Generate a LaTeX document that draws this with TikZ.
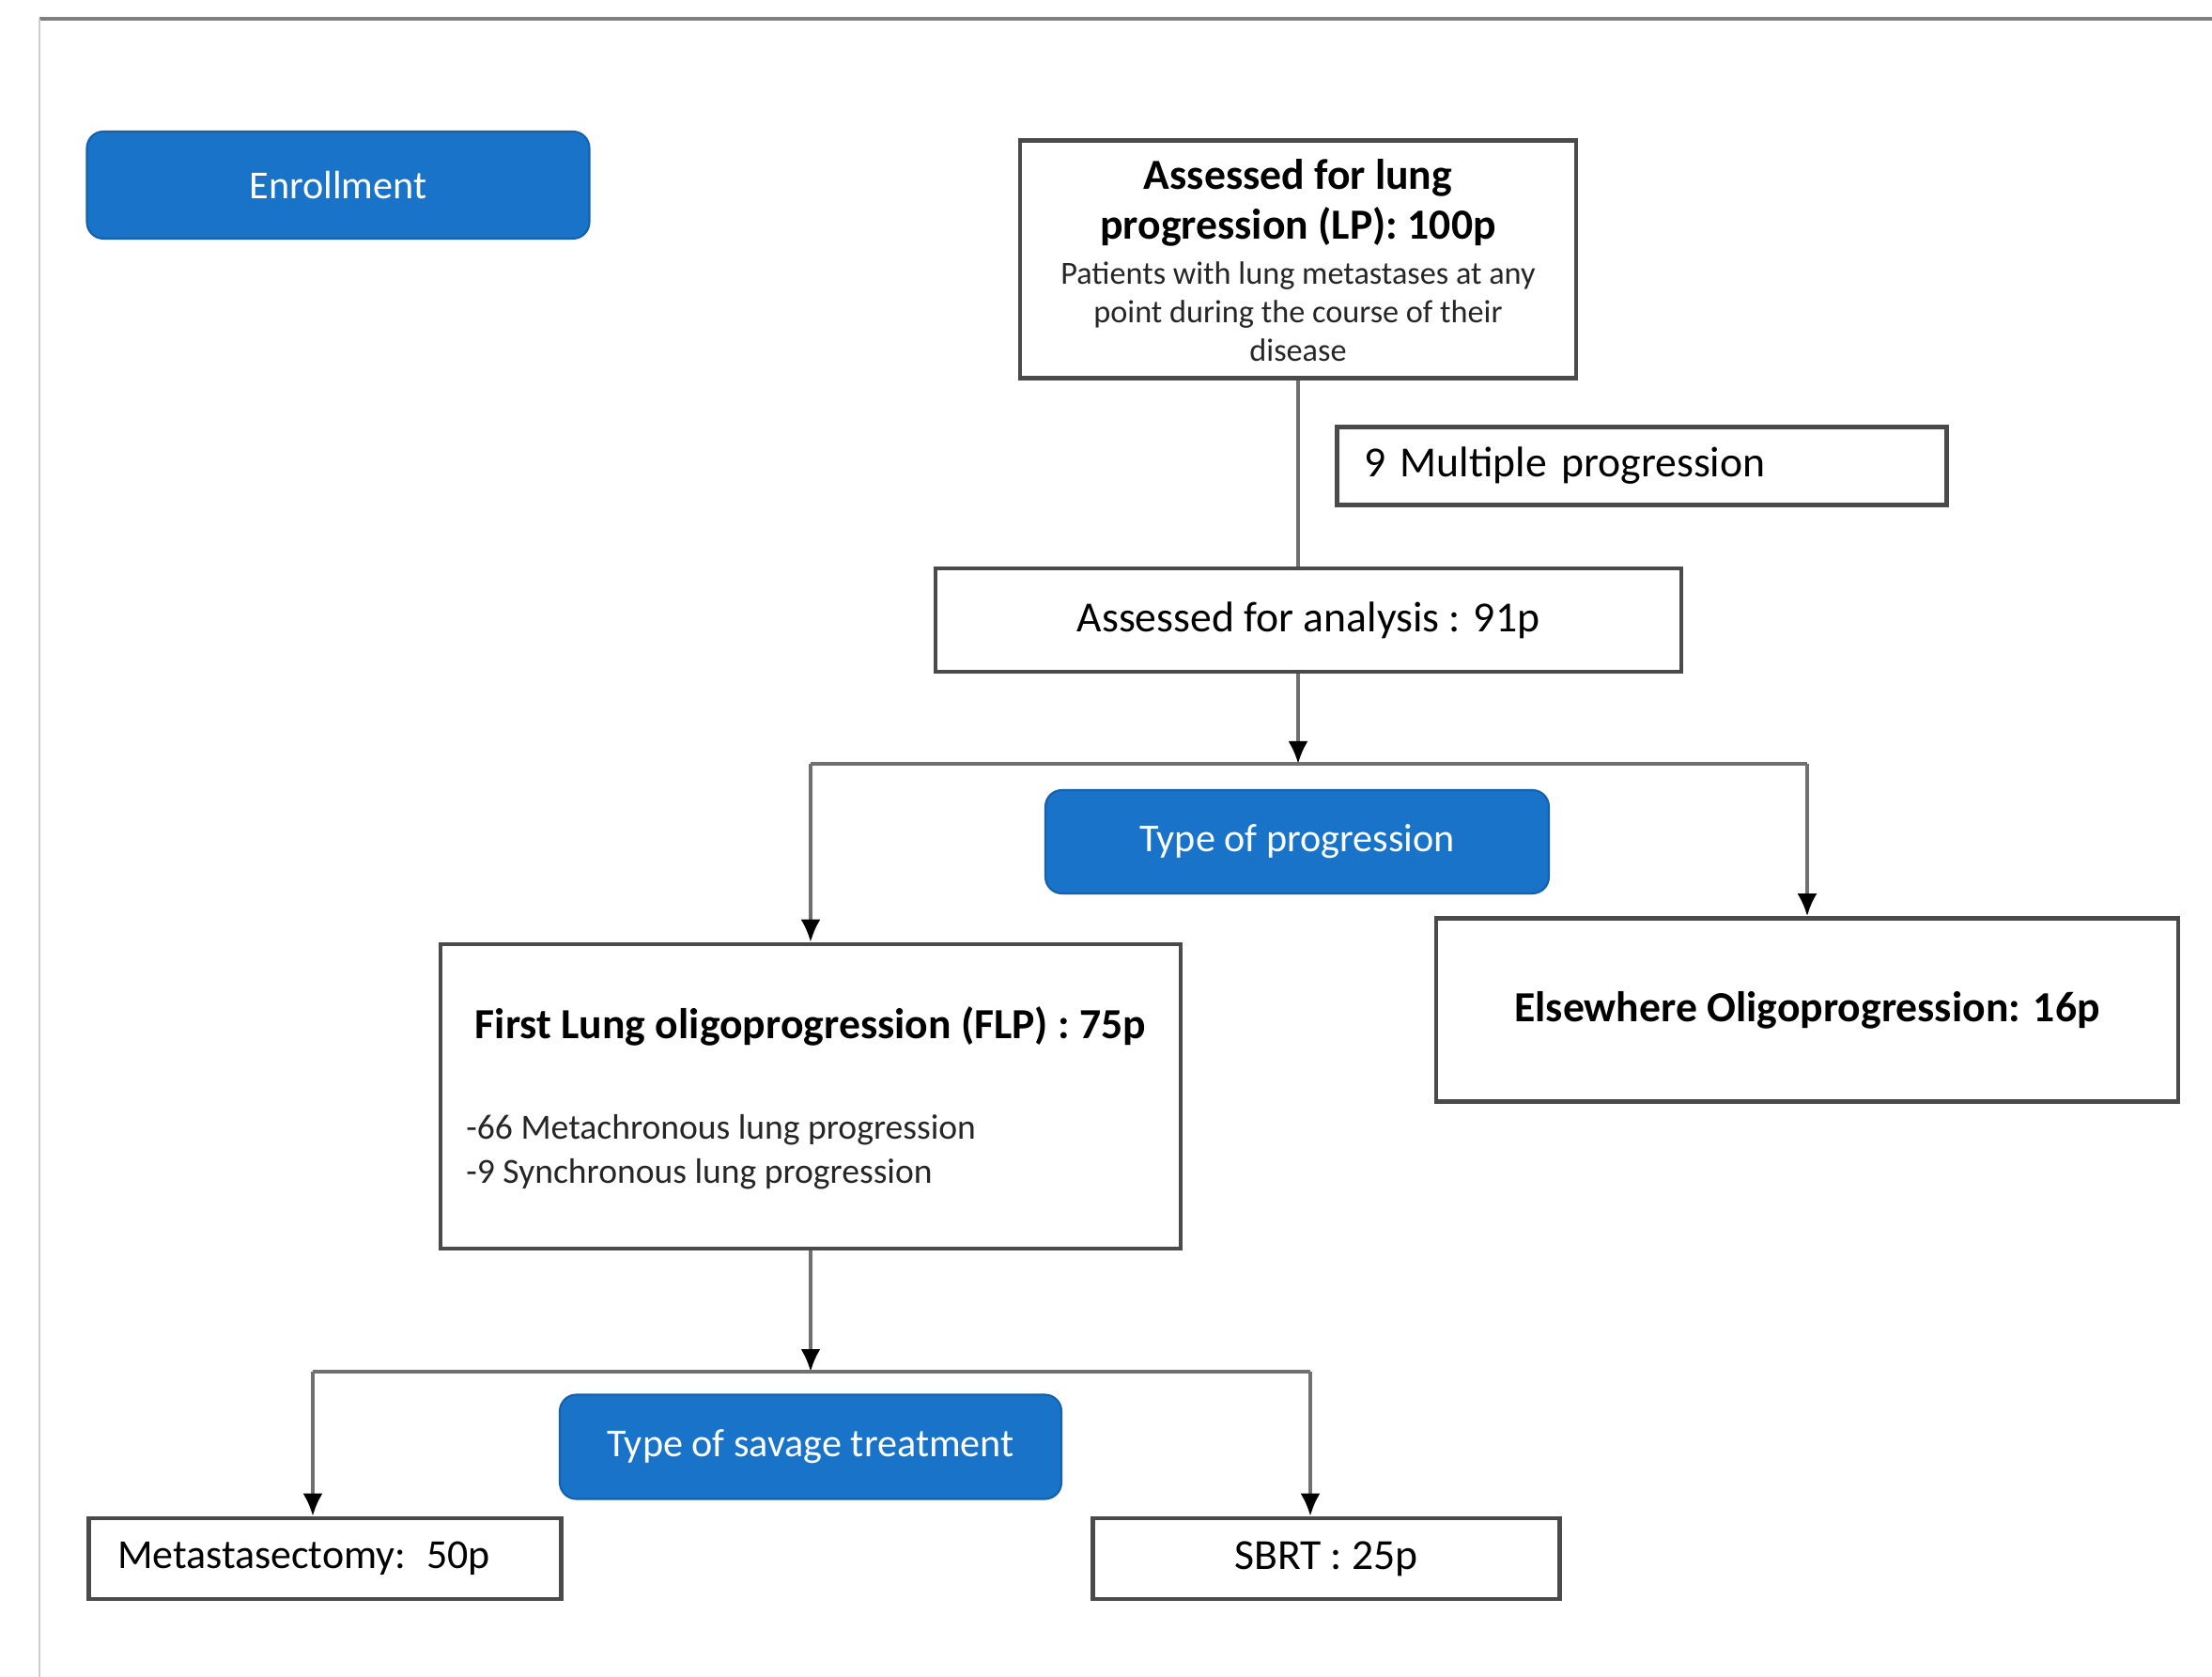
\documentclass[tikz,border=0pt]{standalone}
\usepackage{fontspec}
\setmainfont{Carlito}
\usepackage{tikz}
\usetikzlibrary{arrows.meta,positioning,calc}
\definecolor{stageblue}{HTML}{1873C9}
\definecolor{boxline}{HTML}{4A4A4A}
\definecolor{wireline}{HTML}{707070}

\begin{document}
\begin{tikzpicture}[
    every node/.style={font=\fontsize{13}{16}\selectfont},
    plain/.style={draw=boxline, line width=1.3pt, fill=white, inner sep=0pt, align=center},
    stage/.style={draw=stageblue!85!black, fill=stageblue, text=white, rounded corners=5pt, line width=0.6pt, inner sep=0pt, font=\fontsize{12}{15}\selectfont},
    wire/.style={draw=wireline, line width=1pt},
    arr/.style={wire, -{Latex[length=2.4mm, width=2.1mm, color=black]}}]
    \useasboundingbox (0,0) rectangle (23.55,-17.85);

    % Frame of the page
    \draw[draw=black!50, line width=1.2pt] (0.42,-0.2) -- (23.55,-0.2);
    \draw[draw=black!20, line width=0.5pt] (0.42,-0.2) -- (0.42,-17.85);

    % Stage labels
    \node[stage, minimum width=5.35cm, minimum height=1.14cm] (enroll) at (3.60, -1.97) {Enrollment};
    \node[stage, minimum width=5.36cm, minimum height=1.10cm] (typeprog) at (13.81, -8.96) {Type of progression};
    \node[stage, minimum width=5.34cm, minimum height=1.11cm] (savage) at (8.63, -15.40) {Type of savage treatment};

    % Enrollment
    \node[plain, minimum width=5.92cm, minimum height=2.53cm] (lp) at (13.82, -2.76) {};
    \node[align=center, font=\bfseries\fontsize{13}{15}\selectfont] (lptitle) at (13.82, -2.16) {Assessed for lung\\ progression (LP): 100p};
    \node[align=center, font=\fontsize{9.75}{11.7}\selectfont, text=black!85] (lpnote) at (13.82, -3.32) {Patients with lung metastases at any\\ point during the course of their\\ disease};
    \node[plain, minimum width=6.49cm, minimum height=0.83cm, text width=5.91cm, align=left] (multi) at (17.48, -4.96) {9 Multiple progression};
    \node[plain, minimum width=7.94cm, minimum height=1.10cm] (analysis) at (13.93, -6.60) {Assessed for analysis : 91p};

    % Type of progression
    \node[plain, minimum width=7.88cm, minimum height=3.24cm] (flp) at (8.63, -11.67) {};
    \node[font=\bfseries\fontsize{13}{16}\selectfont] (flptitle) at (8.63, -10.92) {First Lung oligoprogression (FLP) : 75p};
    \node[anchor=west, align=left, font=\fontsize{10.7}{13.5}\selectfont, text=black!85] (flplist) at (4.84, -12.26) {-66 Metachronous lung progression\\ -9 Synchronous lung progression};
    \node[plain, minimum width=7.90cm, minimum height=1.95cm, font=\bfseries\fontsize{13}{16}\selectfont] (else) at (19.24, -10.75) {Elsewhere Oligoprogression: 16p};

    % Savage treatment
    \node[plain, minimum width=5.03cm, minimum height=0.86cm, text width=4.42cm, align=left, font=\fontsize{12.5}{15}\selectfont] (meta) at (3.46, -16.59) {Metastasectomy: 50p};
    \node[plain, minimum width=4.97cm, minimum height=0.86cm] (sbrt) at (14.12, -16.59) {SBRT : 25p};

    % Branch points
    \coordinate (split1) at (13.82, -8.13);
    \coordinate (split1l) at (8.63, -8.13);
    \coordinate (split1r) at (19.24, -8.13);
    \coordinate (split2) at (8.63, -14.60);
    \coordinate (split2l) at (3.33, -14.60);
    \coordinate (split2r) at (13.95, -14.60);

    % Connections
    \draw[wire] (lp.south) -- (lp.south |- analysis.north);
    \draw[arr] (analysis.south -| split1) -- (split1);
    \draw[wire] (split1l) -- (split1r);
    \draw[arr] (split1l) -- (flp.north);
    \draw[arr] (split1r) -- (else.north);
    \draw[arr] (flp.south) -- (split2);
    \draw[wire] (split2l) -- (split2r);
    \draw[arr] (split2l) -- (split2l |- meta.north);
    \draw[arr] (split2r) -- (split2r |- sbrt.north);
\end{tikzpicture}
\end{document}
